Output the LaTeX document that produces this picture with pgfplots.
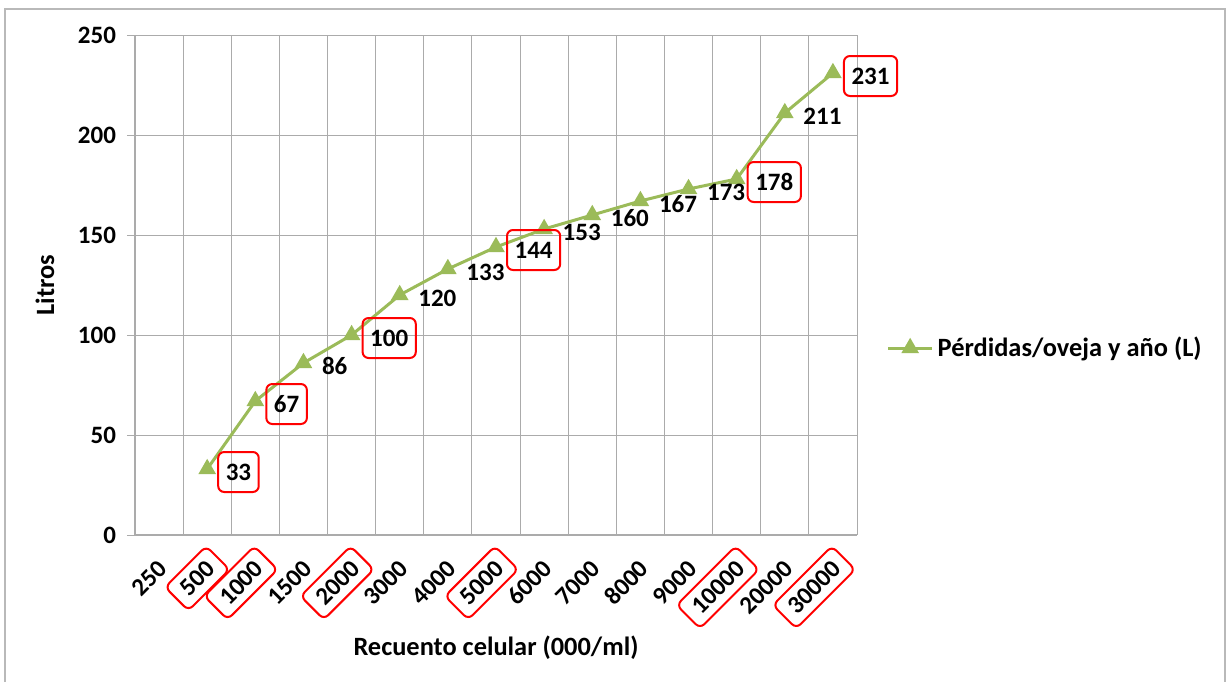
\documentclass[border=0pt]{standalone}
\usepackage{fontspec}
\setmainfont{Carlito}
\usepackage{pgfplots}
\pgfplotsset{compat=1.18}
\definecolor{linegreen}{HTML}{9BBB59}
\definecolor{gridgray}{HTML}{ABABAB}
\newcommand{\chartfont}{\fontsize{12.5}{15}\selectfont\bfseries}
\newcommand{\labelfont}{\fontsize{13.2}{16}\selectfont\bfseries}
\tikzset{
  ticklbl/.style={font=\chartfont, inner xsep=5pt, inner ysep=0pt, text height=8.5pt, text depth=0pt, minimum height=16.5pt, rounded corners=3pt, line width=1pt},
  datalbl/.style={font=\chartfont, inner xsep=3.8pt, inner ysep=5.5pt, text height=8.5pt, text depth=0.5pt, rounded corners=3pt, line width=1pt},
}
\begin{document}
\begin{tikzpicture}
\path[use as bounding box] (0,0) rectangle (613.5pt,341pt);
\draw[gray!55, line width=1pt] (2.5pt,0) -- (2.5pt,336.5pt) -- (612.5pt,336.5pt) -- (612.5pt,0);
\begin{axis}[
  at={(67.5pt,73.5pt)}, anchor=south west,
  scale only axis,
  width=361pt, height=250pt,
  xmin=-0.5, xmax=14.5,
  ymin=0, ymax=250,
  ytick={0,50,...,250},
  xtick={0,3,5,6,8,9,10,11,13},
  xticklabels={250,1500,3000,4000,6000,7000,8000,9000,20000},
  extra x ticks={1,2,4,7,12,14},
  extra x tick labels={500,1000,2000,5000,10000,30000},
  extra x tick style={xticklabel style={draw=red}},
  minor xtick={-0.5,0.5,...,14.5},
  xminorgrids, ymajorgrids,
  grid style={gridgray, line width=0.5pt},
  minor grid style={gridgray, line width=0.5pt},
  axis line style={gridgray, line width=0.6pt},
  axis x line*=bottom, axis y line*=left,
  tick style={gridgray, line width=0.5pt},
  tick align=outside,
  x tick style={draw=none},
  minor x tick style={draw=none},
  major tick length=4pt,
  /pgf/number format/assume math mode=true,
  tick label style={font=\chartfont},
  y tick label style={xshift=-2pt},
  x tick label style={ticklbl, rotate=45, anchor=east, yshift=-9pt, xshift=-1pt},
  xlabel={Recuento celular (000/ml)},
  ylabel={Litros},
  every axis x label/.style={at={(axis description cs:0.5,0)}, yshift=-56.5pt, anchor=center, font=\labelfont},
  every axis y label/.style={at={(axis description cs:0,0.5)}, xshift=-45pt, rotate=90, anchor=center, font=\labelfont},
  legend style={draw=none, at={(axis description cs:1.262,0.374)}, anchor=center, font=\labelfont},
  legend image code/.code={\draw[mark repeat=2, mark phase=2, #1] plot coordinates {(0pt,0pt) (11pt,0pt) (22pt,0pt)};},
]
\addplot[linegreen, line width=1.5pt, mark=triangle*, mark size=3.6pt, mark options={solid, fill=linegreen, draw=linegreen}]
  coordinates {(1,33) (2,67) (3,86) (4,100) (5,120) (6,133) (7,144) (8,153) (9,160) (10,167) (11,173) (12,178) (13,211) (14,231)};
\addlegendentry{Pérdidas/oveja y año (L)}
\addplot[draw=none, mark=none, forget plot, nodes near coords,
  every node near coord/.append style={datalbl, anchor=west, xshift=5pt, yshift=-1.5pt}]
  coordinates {(3,86) (5,120) (6,133) (8,153) (9,160) (10,167) (11,173) (13,211)};
\addplot[draw=none, mark=none, forget plot, nodes near coords,
  every node near coord/.append style={datalbl, draw=red, anchor=west, xshift=5pt, yshift=-1.5pt}]
  coordinates {(1,33) (2,67) (4,100) (7,144) (12,178) (14,231)};
\end{axis}
\end{tikzpicture}
\end{document}
